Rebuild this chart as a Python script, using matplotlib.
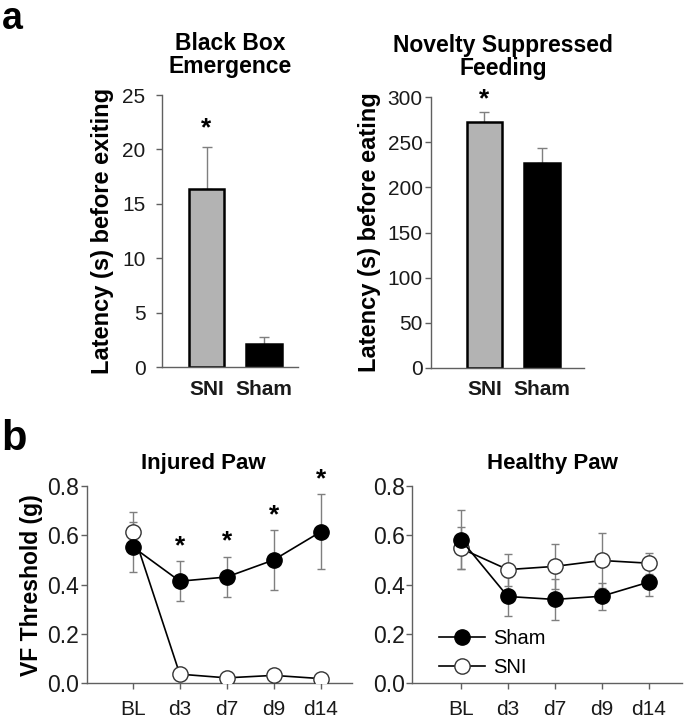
import numpy as np
import matplotlib
matplotlib.use("Agg")
import matplotlib.pyplot as plt

plt.rcParams["font.family"] = ["Liberation Sans", "DejaVu Sans"]

# ---- dados: painel a (barras) ------------------------------------------
groups = ["SNI", "Sham"]
bbe_mean = [16.4, 2.1]
bbe_err = [3.8, 0.65]
nsf_mean = [272, 227]
nsf_err = [12, 17]

# ---- dados: painel b (limiar von Frey) ---------------------------------
days = ["BL", "d3", "d7", "d9", "d14"]
inj_sham = [0.553, 0.414, 0.431, 0.50, 0.614]
inj_sham_err = [0.10, 0.082, 0.083, 0.12, 0.152]
inj_sni = [0.615, 0.037, 0.022, 0.032, 0.019]
inj_sni_err = [0.08, 0.0, 0.0, 0.0, 0.0]
inj_sig = [False, True, True, True, True]

hea_sham = [0.583, 0.352, 0.340, 0.353, 0.410]
hea_sham_err = [0.12, 0.08, 0.082, 0.055, 0.058]
hea_sni = [0.547, 0.461, 0.474, 0.498, 0.487]
hea_sni_err = [0.085, 0.065, 0.092, 0.112, 0.043]

BAR_COLORS = ["#b3b3b3", "black"]
ERR_C = "#7f7f7f"
SPINE_C = "#606060"

fig = plt.figure(figsize=(6.84, 7.2), dpi=100)


def style_axes(ax):
    for s in ("top", "right"):
        ax.spines[s].set_visible(False)
    for s in ("left", "bottom"):
        ax.spines[s].set_color(SPINE_C)
        ax.spines[s].set_linewidth(1.0)
    ax.tick_params(colors=SPINE_C, labelcolor="#1a1a1a", length=4, width=1.0)


def bar_panel(rect, means, errs, ylim, yticks, xlim, title, ylabel, star_off,
              title_dx=0.0, ypad=3, lpad=4):
    ax = fig.add_axes(rect)
    x = np.arange(len(means))
    ax.bar(x, means, width=0.62, color=BAR_COLORS, edgecolor="black", linewidth=1.8, zorder=2)
    ax.errorbar(x, means, yerr=[np.zeros(len(errs)), errs], fmt="none",
                ecolor=ERR_C, elinewidth=1.0, capsize=3.5, capthick=1.0, zorder=1)
    ax.text(x[0], means[0] + errs[0] + star_off, "*", ha="center", va="center",
            fontsize=19, fontweight="bold")
    ax.set_xlim(*xlim)
    ax.set_ylim(*ylim)
    ax.set_yticks(yticks)
    ax.set_xticks(x)
    ax.set_xticklabels(groups, fontsize=15, fontweight="bold")
    style_axes(ax)
    ax.tick_params(axis="x", length=0, pad=9)
    ax.tick_params(axis="y", labelsize=15, direction="out", pad=ypad)
    ax.set_ylabel(ylabel, fontsize=17, fontweight="bold", labelpad=lpad)
    ax.set_title(title, fontsize=16.5, fontweight="bold", pad=16, linespacing=1.0,
                 x=0.5 + title_dx)
    return ax


bar_panel([0.237, 0.490, 0.199, 0.378], bbe_mean, bbe_err, (0, 25), range(0, 26, 5),
          (-0.77, 1.59), "Black Box\nEmergence", "Latency (s) before exiting", 1.7,
          ypad=8, lpad=6)
bar_panel([0.630, 0.489, 0.224, 0.376], nsf_mean, nsf_err, (0, 300), range(0, 301, 50),
          (-0.93, 1.73), "Novelty Suppressed\nFeeding", "Latency (s) before eating", 14,
          title_dx=-0.03, ypad=2, lpad=5)


def line_panel(rect, xlim, sham, sham_err, sni, sni_err, title, title_x,
               sig=None, ylabel=None, legend=False):
    ax = fig.add_axes(rect)
    x = np.arange(len(days))
    ax.errorbar(x, sham, yerr=sham_err, fmt="none", ecolor=ERR_C, elinewidth=1.0,
                capsize=3, capthick=1.0, zorder=1)
    ax.errorbar(x, sni, yerr=sni_err, fmt="none", ecolor=ERR_C, elinewidth=1.0,
                capsize=3, capthick=1.0, zorder=1)
    ax.plot(x, sni, "-o", color="black", lw=1.2, ms=11, mfc="white", mec="#333333",
            mew=1.0, zorder=3, label="SNI")
    ax.plot(x, sham, "-o", color="black", lw=1.2, ms=11, mfc="black", mec="black",
            zorder=4, label="Sham")
    if sig is not None:
        for i, s in enumerate(sig):
            if s:
                ax.text(x[i], sham[i] + sham_err[i] + 0.06, "*", ha="center", va="center",
                        fontsize=19, fontweight="bold", clip_on=False)
    ax.set_xlim(*xlim)
    ax.set_ylim(0, 0.8)
    ax.set_yticks([0.0, 0.2, 0.4, 0.6, 0.8])
    ax.set_yticklabels(["0.0", "0.2", "0.4", "0.6", "0.8"])
    ax.set_xticks(x)
    ax.set_xticklabels(days)
    style_axes(ax)
    ax.tick_params(axis="x", labelsize=15, pad=8)
    ax.tick_params(axis="y", labelsize=16.5, pad=1.5)
    ax.set_title(title, fontsize=16, fontweight="bold", pad=12, x=title_x)
    if ylabel:
        ax.set_ylabel(ylabel, fontsize=16.5, fontweight="bold", labelpad=3)
    if legend:
        h, l = ax.get_legend_handles_labels()
        ax.legend(h[::-1], l[::-1], loc="lower left", bbox_to_anchor=(0.03, -0.06),
                  frameon=False, fontsize=14.5, handlelength=2.3, handletextpad=0.4,
                  labelspacing=0.5)
    return ax


line_panel([0.127, 0.051, 0.387, 0.274], (-0.98, 4.66), inj_sham, inj_sham_err,
           inj_sni, inj_sni_err, "Injured Paw", 0.44, sig=inj_sig, ylabel="VF Threshold (g)")
line_panel([0.603, 0.051, 0.394, 0.274], (-1.03, 4.71), hea_sham, hea_sham_err,
           hea_sni, hea_sni_err, "Healthy Paw", 0.52, legend=True)

fig.text(0.003, 0.998, "a", fontsize=27, fontweight="bold", va="top", ha="left")
fig.text(0.002, 0.418, "b", fontsize=30, fontweight="bold", va="top", ha="left")

fig.savefig("out.png", dpi=100)
